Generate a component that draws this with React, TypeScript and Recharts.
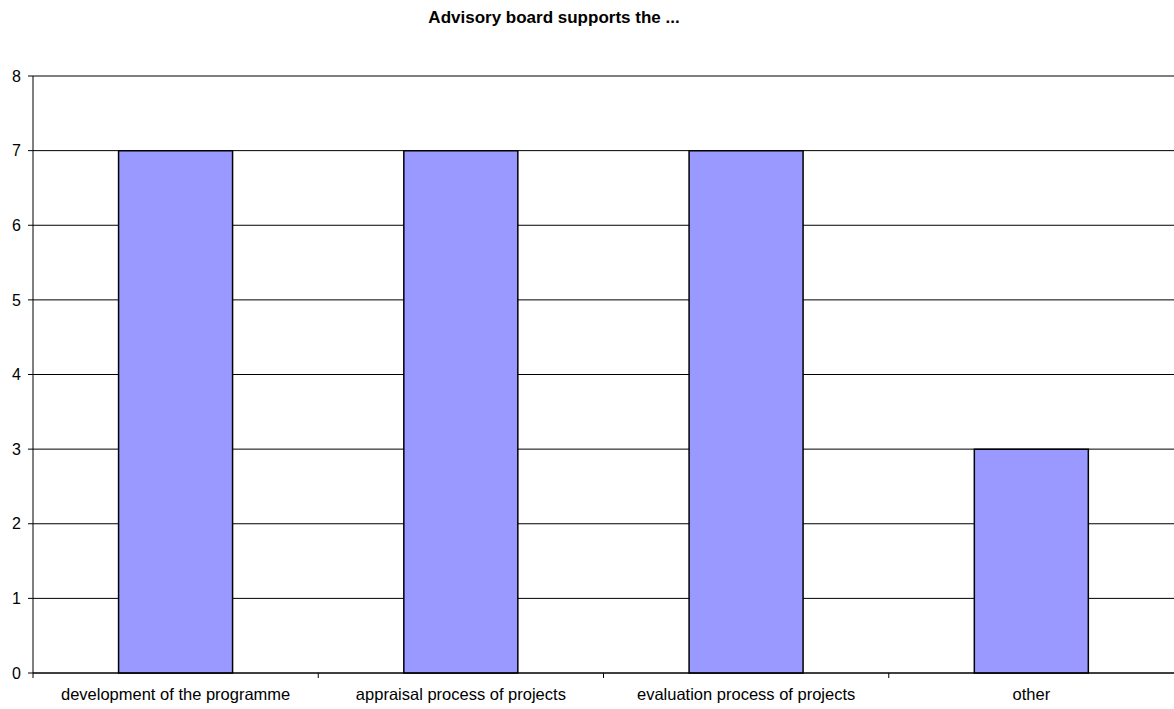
import React from 'react';
import { BarChart, Bar, XAxis, YAxis, CartesianGrid } from 'recharts';

const categories = [
  'development of the programme',
  'appraisal process of projects',
  'evaluation process of projects',
  'other',
];
const counts = [7, 7, 7, 3];
const yTicks = [0, 1, 2, 3, 4, 5, 6, 7, 8];

const data = categories.map((name, i) => ({ name, value: counts[i] }));

const FONT = '"Liberation Sans", Arial, sans-serif';

const CategoryTick = (props: any) => {
  const { x, y, payload } = props;
  const half = payload && payload.offset ? payload.offset : 0;
  return (
    <g>
      <line x1={x - half} x2={x - half} y1={y} y2={y + 5} stroke="#000" />
      <text x={x} y={y} dy={27} textAnchor="middle" fontSize={16.5} fill="#000" fontFamily={FONT}>
        {payload.value}
      </text>
    </g>
  );
};

const App = () => {
  return (
    <div style={{ position: 'absolute', left: 0, top: 0, width: 1174, height: 709, background: '#fff' }}>
      <div
        style={{
          position: 'absolute',
          left: 0,
          width: 1108,
          top: 8,
          textAlign: 'center',
          fontFamily: FONT,
          fontWeight: 'bold',
          fontSize: 17,
          color: '#000',
        }}
      >
        Advisory board supports the ...
      </div>
      <BarChart
        width={1174}
        height={709}
        data={data}
        margin={{ top: 76, right: 0, bottom: 0, left: 0 }}
        barCategoryGap="30%"
      >
        <CartesianGrid vertical={false} stroke="#000" strokeDasharray="" />
        <XAxis
          dataKey="name"
          interval={0}
          tickLine={false}
          tickSize={0}
          tickMargin={0}
          axisLine={{ stroke: '#000' }}
          tick={<CategoryTick />}
          height={36}
        />
        <YAxis
          domain={[0, 8]}
          ticks={yTicks}
          width={33}
          tickSize={5}
          tickMargin={7}
          axisLine={{ stroke: '#000' }}
          tickLine={{ stroke: '#000' }}
          tick={{ fill: '#000', fontSize: 16, fontFamily: FONT }}
        />
        <Bar dataKey="value" fill="#9999FF" stroke="#000" strokeWidth={1.5} isAnimationActive={false} />
      </BarChart>
    </div>
  );
};

export default App;
